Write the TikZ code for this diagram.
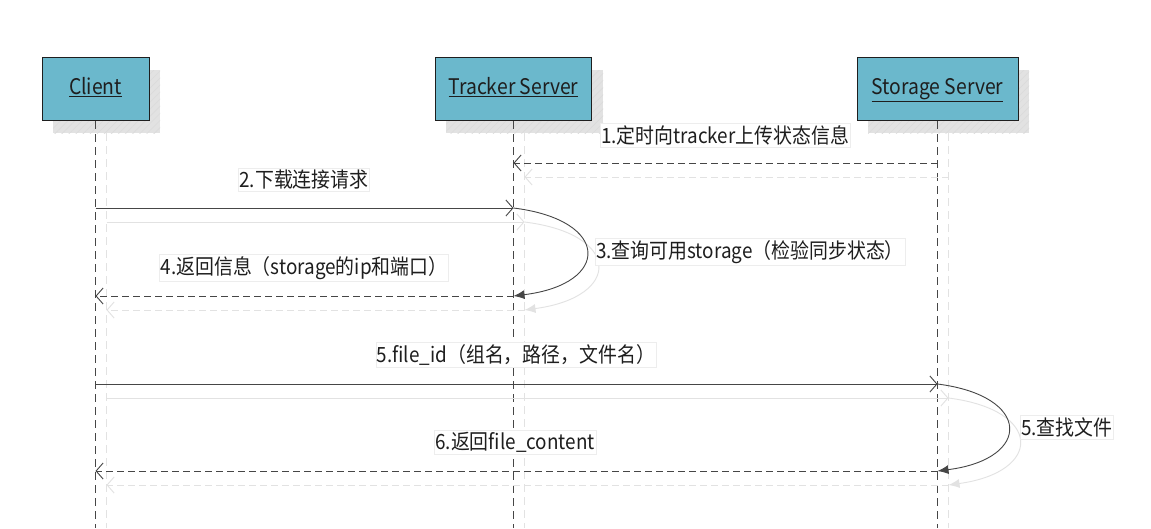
\documentclass[tikz,border=0pt]{standalone}
\usepackage{fontspec}
\setmainfont{Noto Sans CJK SC}[FakeStretch=0.9]
\usetikzlibrary{arrows.meta,patterns.meta}
\definecolor{boxfill}{RGB}{107,184,204}
\definecolor{ink}{RGB}{30,30,30}
\definecolor{lineink}{RGB}{70,70,70}
\definecolor{shade}{RGB}{226,226,226}
\definecolor{ghost}{RGB}{226,226,226}
\begin{document}
\begin{tikzpicture}[x=1pt,y=-1pt,
  actor/.style={draw=ink, line width=1pt, fill=boxfill, inner sep=0pt,
    minimum height=63pt, text height=16pt, text depth=5pt,
    font=\fontsize{21.5}{24}\selectfont, text=ink},
  shadowbox/.style={fill=shade},
  hatch/.style={pattern={Lines[angle=45,distance=5pt,line width=0.6pt]}, pattern color=black!14},
  lifeline/.style={draw=lineink, dash pattern=on 8pt off 5pt, line width=0.8pt},
  ghostlife/.style={draw=ghost, dash pattern=on 8pt off 5pt, line width=0.8pt},
  msg/.style={draw=lineink, line width=0.9pt, -{Straight Barb[length=7pt,width=16pt]}},
  ret/.style={msg, dash pattern=on 7pt off 4pt},
  ghostmsg/.style={draw=ghost, line width=0.9pt, -{Straight Barb[length=7pt,width=16pt]}},
  ghostret/.style={ghostmsg, dash pattern=on 7pt off 4pt},
  loop/.style={draw=lineink, line width=0.9pt, -{Latex[length=11pt,width=9pt]}},
  ghostloop/.style={draw=ghost, line width=0.9pt, -{Latex[length=11pt,width=9pt]}},
  lbl/.style={fill=white, draw=black!7, line width=0.4pt, inner xsep=1pt, inner ysep=2pt,
    font=\fontsize{21}{24}\selectfont, text=ink}
]
\useasboundingbox (0,0) rectangle (1151,528);
\fill[white] (0,0) rectangle (1151,528);

% shadows of the actor boxes
\path[shadowbox] (53,70) rectangle (160,133);
\path[hatch] (53,70) rectangle (160,133);
\path[shadowbox] (446,70) rectangle (603,133);
\path[hatch] (446,70) rectangle (603,133);
\path[shadowbox] (868,70) rectangle (1029,133);
\path[hatch] (868,70) rectangle (1029,133);

% ghost lifelines
\coordinate (gc0) at (106,133); \coordinate (gc1) at (106,528);
\coordinate (gt0) at (524.5,133); \coordinate (gt1) at (524.5,528);
\coordinate (gs0) at (948.5,133); \coordinate (gs1) at (948.5,528);
\draw[ghostlife] (gc0) -- (gc1);
\draw[ghostlife] (gt0) -- (gt1);
\draw[ghostlife] (gs0) -- (gs1);

% actors
\node[actor, minimum width=107pt] (client) at (95.5,89) {\underline{Client}};
\node[actor, minimum width=156pt] (tracker) at (513.5,89) {\underline{Tracker Server}};
\node[actor, minimum width=161pt] (storage) at (937.5,89) {\underline{Storage Server}};

% lifelines
\coordinate (cend) at (95.5,528);
\coordinate (tend) at (513.5,528);
\coordinate (send) at (937.5,528);
\draw[lifeline] (client.south) -- (cend);
\draw[lifeline] (tracker.south) -- (tend);
\draw[lifeline] (storage.south) -- (send);

% message points on lifelines
\coordinate (s1) at (937.5,163); \coordinate (t1) at (513.5,163);
\coordinate (c2) at (95.5,208);  \coordinate (t2) at (513.5,208);
\coordinate (t4) at (513.5,296); \coordinate (c4) at (95.5,296);
\coordinate (c5) at (95.5,384);  \coordinate (s5) at (937.5,384);
\coordinate (s6) at (937.5,471); \coordinate (c6) at (95.5,471);
% ghost copies
\coordinate (gs1m) at (948.5,177); \coordinate (gt1m) at (524.5,177);
\coordinate (gc2) at (106.5,222);  \coordinate (gt2) at (524.5,222);
\coordinate (gt4) at (524.5,310);  \coordinate (gc4) at (106.5,310);
\coordinate (gc5) at (106.5,398);  \coordinate (gs5) at (948.5,398);
\coordinate (gs6) at (948.5,485);  \coordinate (gc6) at (106.5,485);

% ghost messages
\draw[ghostret] (gs1m) -- (gt1m);
\draw[ghostmsg] (gc2) -- (gt2);
\draw[ghostloop] (gt2) .. controls (622,234) and (622,297) .. (gt4);
\draw[ghostret] (gt4) -- (gc4);
\draw[ghostmsg] (gc5) -- (gs5);
\draw[ghostloop] (gs5) .. controls (1043,410) and (1043,472) .. (gs6);
\draw[ghostret] (gs6) -- (gc6);

% messages
\draw[ret] (s1) -- (t1);
\draw[msg] (c2) -- (t2);
\draw[loop] (t2) .. controls (611,220) and (611,284) .. (t4);
\draw[ret] (t4) -- (c4);
\draw[msg] (c5) -- (s5);
\draw[loop] (s5) .. controls (1032,396) and (1032,459) .. (s6);
\draw[ret] (s6) -- (c6);

% labels
\node[lbl] (l1) at (725,135) {1.定时向tracker上传状态信息};
\node[lbl] (l2) at (304,180) {2.下载连接请求};
\node[lbl, anchor=west] (l3) at (595,252) {3.查询可用storage（检验同步状态）};
\node[lbl] (l4) at (304,268) {4.返回信息（storage的ip和端口）};
\node[lbl] (l5) at (516,355) {5.file\_id（组名，路径，文件名）};
\node[lbl, anchor=west] (l5b) at (1020,427) {5.查找文件};
\node[lbl] (l6) at (515,442) {6.返回file\_content};
\end{tikzpicture}
\end{document}
